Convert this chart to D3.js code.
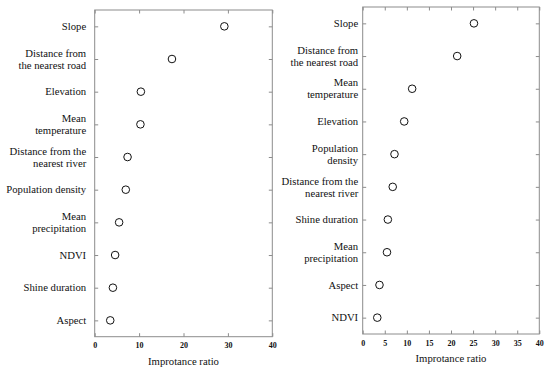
<!DOCTYPE html>
<html>
<head>
<meta charset="utf-8">
<script src="https://cdn.jsdelivr.net/npm/d3@7"></script>
<style>
  body { margin: 0; background: #fff; }
  svg { display: block; }
  text { font-family: 'Times New Roman', 'Liberation Serif', Times, serif; }
  .cat { font-size: 10.7px; fill: #111; }
  .tick text { font-size: 8px; font-weight: bold; fill: #111; }
  .title { font-size: 10.7px; fill: #111; }
</style>
</head>
<body>
<svg width="550" height="371"></svg>
<script>
// left panel
const leftFactors = ['Slope', 'Distance from|the nearest road', 'Elevation', 'Mean|temperature',
    'Distance from the|nearest river', 'Population density', 'Mean|precipitation', 'NDVI',
    'Shine duration', 'Aspect'];
const leftValues = [29.2, 17.4, 10.4, 10.3, 7.4, 7.0, 5.5, 4.6, 4.1, 3.5];
const leftTicks = [0, 10, 20, 30, 40];

// right panel
const rightFactors = ['Slope', 'Distance from|the nearest road', 'Mean|temperature', 'Elevation',
    'Population|density', 'Distance from the|nearest river', 'Shine duration', 'Mean|precipitation',
    'Aspect', 'NDVI'];
const rightValues = [25.2, 21.4, 11.2, 9.4, 7.2, 6.8, 5.7, 5.5, 3.8, 3.3];
const rightTicks = [0, 5, 10, 15, 20, 25, 30, 35, 40];

const xTitle = 'Improtance ratio';

const svg = d3.select('svg');
const serif = "'Times New Roman', 'Liberation Serif', Times, serif";

function panel(factors, values, ticks, box, labelGap) {
    const x = d3.scaleLinear().domain([0, 40]).range([box.left, box.right]);
    const y = d3.scalePoint().domain(factors).range([box.top, box.bottom]).padding(0.5);
    const g = svg.append('g');
    const grey = '#8c8c8c';

    // frame
    g.append('rect')
        .attr('x', box.left).attr('y', box.top)
        .attr('width', box.right - box.left).attr('height', box.bottom - box.top)
        .attr('fill', 'none').attr('stroke', grey).attr('stroke-width', 1);

    const bottom = g.append('g')
        .attr('transform', 'translate(0,' + box.bottom + ')')
        .call(d3.axisBottom(x).tickValues(ticks).tickSizeInner(-3.5).tickSizeOuter(0).tickPadding(box.tickPad));
    const top = g.append('g')
        .attr('transform', 'translate(0,' + box.top + ')')
        .call(d3.axisTop(x).tickValues(ticks).tickSizeInner(-3.5).tickSizeOuter(0).tickFormat(''));
    const left = g.append('g')
        .attr('transform', 'translate(' + box.left + ',0)')
        .call(d3.axisLeft(y).tickSizeInner(-3.5).tickSizeOuter(0).tickFormat(''));
    const right = g.append('g')
        .attr('transform', 'translate(' + box.right + ',0)')
        .call(d3.axisRight(y).tickSizeInner(-3.5).tickSizeOuter(0).tickFormat(''));
    [bottom, top, left, right].forEach(a => {
        a.attr('font-family', serif);
        a.select('.domain').remove();
        a.selectAll('line').attr('stroke', grey);
    });

    // category labels, split on '|'
    factors.forEach(f => {
        const lines = f.split('|');
        const t = g.append('text').attr('class', 'cat')
            .attr('font-family', serif).attr('text-anchor', 'end');
        lines.forEach((s, i) => {
            t.append('tspan')
                .attr('x', box.left - labelGap)
                .attr('y', y(f) + (i - (lines.length - 1) / 2) * 12)
                .attr('dy', '0.35em')
                .text(s);
        });
    });

    g.selectAll('circle')
        .data(values)
        .enter().append('circle')
        .attr('cx', (d) => x(d))
        .attr('cy', (d, i) => y(factors[i]))
        .attr('r', 3.8)
        .attr('fill', '#fff')
        .attr('stroke', '#111')
        .attr('stroke-width', 1);

    g.append('text')
        .attr('class', 'title')
        .attr('font-family', serif)
        .attr('text-anchor', 'middle')
        .attr('x', (box.left + box.right) / 2)
        .attr('y', box.titleY)
        .text(xTitle);
}

panel(leftFactors, leftValues, leftTicks,
    { left: 94.7, right: 272.3, top: 10, bottom: 336.7, tickPad: 6, titleY: 365 }, 8.5);
panel(rightFactors, rightValues, rightTicks,
    { left: 362.7, right: 539.3, top: 7, bottom: 334, tickPad: 6, titleY: 362 }, 4.5);
</script>
</body>
</html>
